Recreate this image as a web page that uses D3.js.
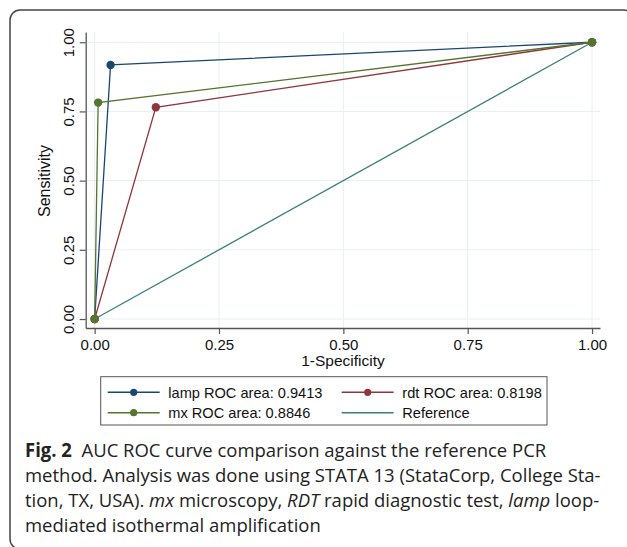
<!DOCTYPE html>
<html>
<head>
<meta charset="utf-8">
<script src="https://cdn.jsdelivr.net/npm/d3@7"></script>
<style>
  html, body { margin: 0; padding: 0; background: #fff; }
  svg { display: block; }
</style>
</head>
<body>
<svg id="chart" width="627" height="547"></svg>
<script>
// values
const seriesNames = ["lamp", "rdt", "mx"];
const areaLabels = ["0.9413", "0.8198", "0.8846"];
const seriesColors = ["#1a476f", "#90353b", "#55752f"];
const lampSpec = [0, 0.032, 1];
const lampSens = [0, 0.918, 1];
const rdtSpec = [0, 0.123, 1];
const rdtSens = [0, 0.765, 1];
const mxSpec = [0, 0.007, 1];
const mxSens = [0, 0.782, 1];
const refSpec = [0, 1];
const refSens = [0, 1];
const tickValues = [0, 0.25, 0.5, 0.75, 1];
const refColor = "#3b7f76";

const captionLines = [
  [{ t: "Fig. 2", w: "bold" }, { t: "  AUC ROC curve comparison against the reference PCR" }],
  [{ t: "method. Analysis was done using STATA 13 (StataCorp, College Sta-" }],
  [{ t: "tion, TX, USA). " }, { t: "mx", i: true }, { t: " microscopy, " }, { t: "RDT", i: true },
   { t: " rapid diagnostic test, " }, { t: "lamp", i: true }, { t: " loop-" }],
  [{ t: "mediated isothermal amplification" }]
];

const svg = d3.select("#chart");
const chartFont = "'Liberation Sans', Arial, sans-serif";
const axisColor = "#555";

// outer frame
svg.append("rect")
  .attr("x", 10).attr("y", 10)
  .attr("width", 624).attr("height", 539)
  .attr("rx", 10).attr("ry", 10)
  .attr("fill", "none")
  .attr("stroke", "#444")
  .attr("stroke-width", 1.5);

const x = d3.scaleLinear().domain([-0.018, 1.016]).range([85.7, 600]);
const y = d3.scaleLinear().domain([-0.0325, 1.037]).range([328, 32]);

// grid
const grid = svg.append("g");
grid.selectAll(".gx").data(tickValues).join("line")
  .attr("x1", d => x(d)).attr("x2", d => x(d))
  .attr("y1", y.range()[1]).attr("y2", y.range()[0])
  .attr("stroke", "#e7eff1").attr("stroke-width", 1);
grid.selectAll(".gy").data(tickValues).join("line")
  .attr("y1", d => y(d)).attr("y2", d => y(d))
  .attr("x1", x.range()[0]).attr("x2", x.range()[1])
  .attr("stroke", "#e7eff1").attr("stroke-width", 1);

// axes
const xAxis = svg.append("g")
  .attr("transform", `translate(0,${y.range()[0]})`)
  .call(d3.axisBottom(x).tickValues(tickValues).tickFormat(d3.format(".2f")).tickSize(6).tickSizeOuter(0));
xAxis.selectAll("text").attr("dy", null).attr("y", 21.5);

const yAxis = svg.append("g")
  .attr("transform", `translate(${x.range()[0]},0)`)
  .call(d3.axisLeft(y).tickValues(tickValues).tickFormat(d3.format(".2f")).tickSize(6).tickSizeOuter(0));
yAxis.selectAll("text")
  .attr("dy", null).attr("x", 0).attr("y", -11.5)
  .attr("text-anchor", "middle")
  .attr("transform", "rotate(-90)");

[xAxis, yAxis].forEach(a => {
  a.attr("font-family", chartFont).attr("font-size", 15);
  a.select(".domain").attr("stroke", axisColor).attr("stroke-width", 1.3);
  a.selectAll(".tick line").attr("stroke", axisColor).attr("stroke-width", 1.2);
  a.selectAll(".tick text").attr("fill", "#111");
});

svg.append("text")
  .attr("transform", "translate(50,181) rotate(-90)")
  .attr("text-anchor", "middle")
  .attr("font-family", chartFont).attr("font-size", 16).attr("fill", "#111")
  .text("Sensitivity");
svg.append("text")
  .attr("x", 343).attr("y", 366)
  .attr("text-anchor", "middle")
  .attr("font-family", chartFont).attr("font-size", 15.5).attr("fill", "#111")
  .text("1-Specificity");

// curves
const line = d3.line().x(d => x(d[0])).y(d => y(d[1]));
svg.append("path")
  .attr("d", line(d3.zip(refSpec, refSens)))
  .attr("fill", "none").attr("stroke", refColor).attr("stroke-width", 1.3);

const seriesPts = [d3.zip(lampSpec, lampSens), d3.zip(rdtSpec, rdtSens), d3.zip(mxSpec, mxSens)];
seriesPts.forEach((pts, i) => {
  const g = svg.append("g");
  g.append("path")
    .attr("d", line(pts))
    .attr("fill", "none").attr("stroke", seriesColors[i]).attr("stroke-width", 1.3);
  g.selectAll("circle").data(pts).join("circle")
    .attr("cx", d => x(d[0])).attr("cy", d => y(d[1]))
    .attr("r", 4.2).attr("fill", seriesColors[i]);
});

// legend
const legend = svg.append("g").attr("font-family", chartFont).attr("font-size", 14.6);
legend.append("rect")
  .attr("x", 100.7).attr("y", 376.7).attr("width", 446.3).attr("height", 48.3)
  .attr("fill", "#fff").attr("stroke", "#555").attr("stroke-width", 1);

const legendItems = seriesNames.map((s, i) => ({ label: `${s} ROC area: ${areaLabels[i]}`, color: seriesColors[i], dot: true }))
  .concat([{ label: "Reference", color: refColor, dot: false }]);
const colX = [107.7, 341.7];
const rowY = [392.3, 412.7];
legendItems.forEach((it, i) => {
  const lx = colX[i % 2], ly = rowY[Math.floor(i / 2)];
  legend.append("line")
    .attr("x1", lx).attr("x2", lx + 52).attr("y1", ly).attr("y2", ly)
    .attr("stroke", it.color).attr("stroke-width", 1.5);
  if (it.dot) legend.append("circle").attr("cx", lx + 26).attr("cy", ly).attr("r", 3.6).attr("fill", it.color);
  legend.append("text").attr("x", lx + 60.6).attr("y", ly + 5.2).attr("fill", "#111").text(it.label);
});

// caption
const cap = svg.append("g");
const capLeft = 25, capBase = 457, capStep = 25;
const lineNodes = captionLines.map((parts, k) => {
  const t = cap.append("text")
    .attr("x", 0).attr("y", 0)
    .attr("font-family", "'Open Sans', 'Noto Sans', sans-serif")
    .attr("font-size", 19).attr("fill", "#222")
    .style("white-space", "pre");
  parts.forEach(p => {
    t.append("tspan")
      .attr("font-weight", p.w || null)
      .attr("font-style", p.i ? "italic" : null)
      .text(p.t);
  });
  return t;
});
const sx = 576 / lineNodes[1].node().getComputedTextLength();
lineNodes.forEach((t, k) => t.attr("transform", `translate(${capLeft},${capBase + k * capStep}) scale(${sx},1)`));
</script>
</body>
</html>
